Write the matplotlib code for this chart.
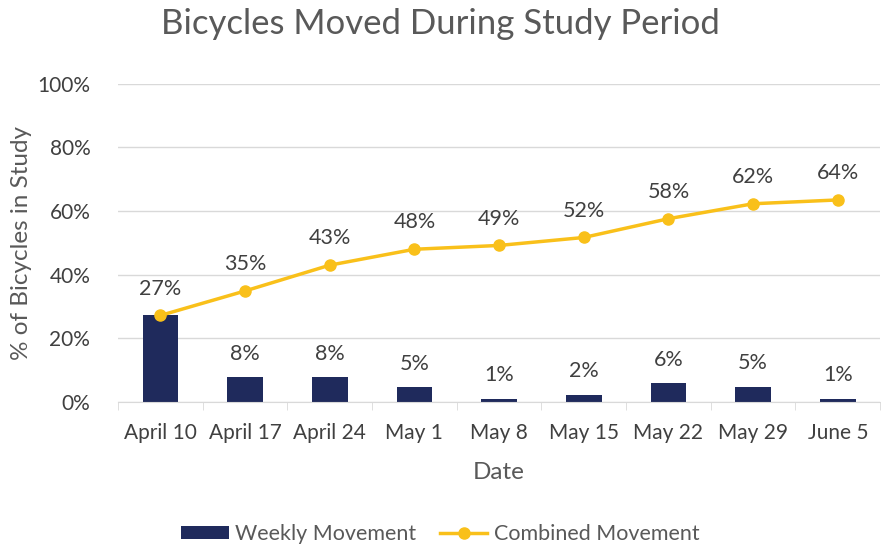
import numpy as np
import matplotlib.pyplot as plt
from matplotlib.ticker import FuncFormatter

plt.rcParams['font.family'] = ['Lato', 'DejaVu Sans']

dates = ["April 10", "April 17", "April 24", "May 1", "May 8",
         "May 15", "May 22", "May 29", "June 5"]
weekly = [27.2, 7.8, 7.8, 4.6, 1.0, 2.2, 5.9, 4.7, 1.0]
combined = [27.2, 34.9, 43.0, 48.0, 49.2, 51.7, 57.6, 62.3, 63.5]

navy = "#1f2a5c"
gold = "#f9c01a"
grid_c = "#d9d9d9"
text_c = "#595959"

fig = plt.figure(figsize=(8.81, 5.44), dpi=100)
ax = fig.add_axes([0.134, 0.261, 0.865, 0.585])

x = np.arange(len(dates))
bars = ax.bar(x, weekly, width=0.42, color=navy, zorder=2, label="Weekly Movement")
line, = ax.plot(x, combined, color=gold, lw=2.5, marker="o", ms=8, zorder=3,
                label="Combined Movement")

# labels; first week's bar equals the combined point so only one label there
for xi, w, c in zip(x, weekly, combined):
    if round(w) != round(c):
        ax.text(xi, w + 4.3, f"{round(w)}%", ha="center", va="bottom",
                fontsize=15.5, color="#404040")
    ax.text(xi, c + 5.3, f"{round(c)}%", ha="center", va="bottom",
            fontsize=15.5, color="#404040")

ax.set_xlim(-0.5, len(dates) - 0.5)
ax.set_ylim(0, 100)
ax.set_yticks(np.arange(0, 101, 20))
ax.yaxis.set_major_formatter(FuncFormatter(lambda v, p: f"{v:.0f}%"))
ax.grid(axis="y", color=grid_c, lw=1, zorder=0)
ax.set_axisbelow(True)

ax.set_xticks(x)
ax.set_xticklabels(dates)
ax.set_xticks(np.arange(-0.5, len(dates)), minor=True)
ax.tick_params(axis="x", which="major", length=0, pad=15, labelsize=15,
               labelcolor="#404040")
ax.tick_params(axis="x", which="minor", length=6, color=grid_c)
ax.tick_params(axis="y", length=0, pad=20, labelsize=15, labelcolor="#404040")

for s in ["top", "right", "left"]:
    ax.spines[s].set_visible(False)
ax.spines["bottom"].set_color(grid_c)

ax.set_xlabel("Date", fontsize=17.5, color=text_c, labelpad=14)
ax.set_ylabel("% of Bicycles in Study", fontsize=17.5, color=text_c, labelpad=4)

fig.suptitle("Bicycles Moved During Study Period", fontsize=25, color=text_c,
             y=0.985)

fig.legend([bars, line], ["Weekly Movement", "Combined Movement"],
           loc="lower center", ncol=2, frameon=False, fontsize=15.5,
           bbox_to_anchor=(0.5, -0.035), handlelength=2.2, handleheight=0.55,
           handletextpad=0.3, columnspacing=1.1, labelcolor=text_c)

fig.savefig("out.png", dpi=100)
